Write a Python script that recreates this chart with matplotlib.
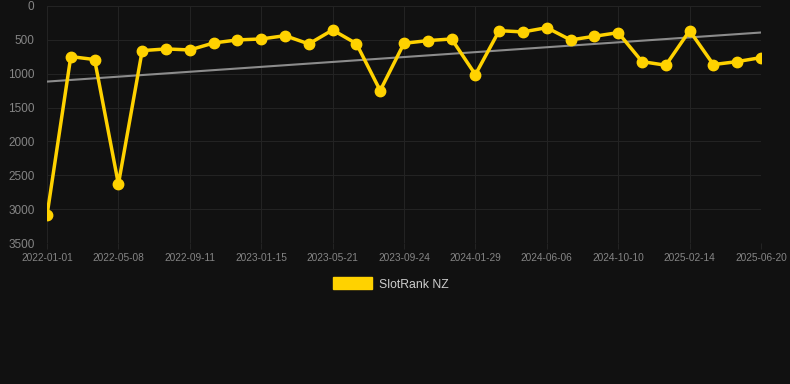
import numpy as np
import pandas as pd
import matplotlib
matplotlib.use("Agg")
import matplotlib.pyplot as plt
import matplotlib.dates as mdates
from matplotlib.patches import Patch

# rank values, evenly spaced between 2022-01-01 and 2025-06-20
start, end = "2022-01-01", "2025-06-20"
dates = pd.date_range(start, end, periods=31)
ranks = [3090, 747, 791, 2630, 659, 634, 649, 546, 501, 487, 438, 560, 354, 556, 1249,
         551, 511, 487, 1013, 364, 383, 320, 501, 447, 393, 821, 875, 364, 865, 821, 762]
tick_labels = ["2022-01-01", "2022-05-08", "2022-09-11", "2023-01-15", "2023-05-21",
               "2023-09-24", "2024-01-29", "2024-06-06", "2024-10-10", "2025-02-14",
               "2025-06-20"]
y_ticks = [0, 500, 1000, 1500, 2000, 2500, 3000, 3500]
series_name = "SlotRank NZ"

bg = "#111111"
gold = "#FFD200"
grid_c = "#232323"
text_c = "#858585"

plt.rcParams['font.family'] = ['Liberation Sans', 'DejaVu Sans']

fig = plt.figure(figsize=(7.9, 3.84), dpi=100, facecolor=bg)
ax = fig.add_axes([47/790, 1-243/384, (761-47)/790, (243-6)/384])
ax.set_facecolor(bg)

# linear trend over the series
xnum = mdates.date2num(dates)
coef = np.polyfit(xnum, ranks, 1)
ax.plot(dates, np.polyval(coef, xnum), color="#8c8c8c", lw=1.5, zorder=2)

ax.plot(dates, ranks, color=gold, lw=2.5, marker="o", ms=7.5, zorder=3)

tick_pos = pd.date_range(start, end, periods=len(tick_labels))
ax.set_ylim(3500, 0)
ax.set_xlim(tick_pos[0], tick_pos[-1])
ax.set_yticks(y_ticks)
ax.set_xticks(tick_pos)
ax.set_xticklabels(tick_labels)
ax.grid(True, color=grid_c, lw=0.8)
for s in ax.spines.values():
    s.set_visible(False)
ax.tick_params(axis="x", colors=grid_c, labelcolor=text_c, labelsize=7.3, length=4, pad=3)
ax.tick_params(axis="y", length=0, labelcolor=text_c, labelsize=8.5, pad=9)

handle = Patch(facecolor=gold, edgecolor=gold)
fig.legend([handle], [series_name], loc="center", bbox_to_anchor=(0.495, 1-284/384),
           frameon=False, labelcolor="#cccccc", fontsize=8.8,
           handlelength=3.2, handleheight=1.1, handletextpad=0.6)

fig.savefig("out.png", dpi=100, facecolor=bg)
